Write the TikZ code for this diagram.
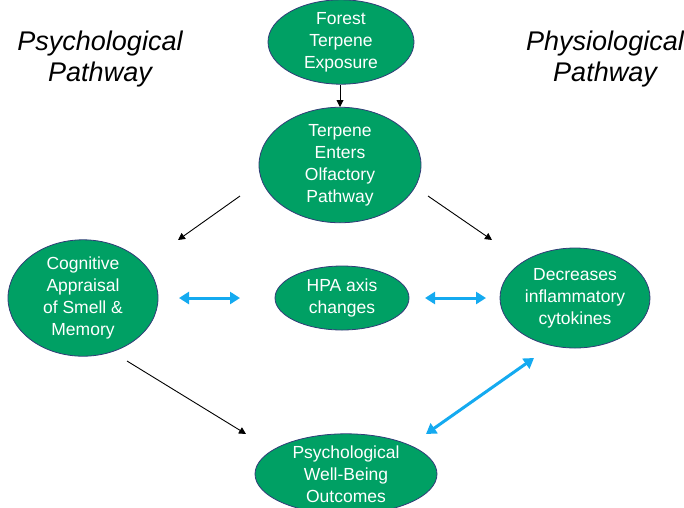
\documentclass[tikz,border=0pt]{standalone}
\usepackage{fontspec}
\setmainfont{Liberation Sans}
\usetikzlibrary{shapes.geometric,arrows.meta}
\definecolor{nodegreen}{RGB}{0,160,100}
\definecolor{nodeedge}{RGB}{50,60,120}
\definecolor{arrowblue}{RGB}{20,170,240}
\tikzset{
  oval/.style={ellipse, draw=nodeedge, line width=0.8pt, fill=nodegreen, text=white,
    inner sep=0pt, align=center, font=\fontsize{17.5}{22}\selectfont},
  blackarrow/.style={draw=black, line width=0.9pt, -{Triangle[length=7pt,width=7pt]}},
  bluearrow/.style={draw=arrowblue, line width=3pt, {Triangle[length=10pt,width=12pt]}-{Triangle[length=10pt,width=12pt]}},
  sidelabel/.style={align=center, font=\fontsize{27}{31}\selectfont\itshape}
}
\begin{document}
\begin{tikzpicture}[x=1pt,y=-1pt]
\useasboundingbox (0,0) rectangle (684,507);
\node[oval, minimum width=146pt, minimum height=70pt] (forest) at (341,42) {Forest\\Terpene\\Exposure};
\node[oval, minimum width=162pt, minimum height=100pt] (enters) at (340,165) {Terpene\\Enters\\Olfactory\\Pathway};
\node[oval, minimum width=150pt, minimum height=90pt] (cog) at (83,298) {Cognitive\\Appraisal\\of Smell \&\\Memory};
\node[oval, minimum width=134pt, minimum height=64pt] (hpa) at (342,298) {HPA axis\\changes};
\node[oval, minimum width=150pt, minimum height=100pt] (dec) at (575,298) {Decreases\\inflammatory\\cytokines};
\node[oval, minimum width=182pt, minimum height=80pt] (well) at (346,474) {Psychological\\Well-Being\\Outcomes};
\node[sidelabel] (psych) at (100,59) {Psychological\\Pathway};
\node[sidelabel] (phys) at (605,59) {Physiological\\Pathway};
% black arrows
\coordinate (a1s) at (340,85); \coordinate (a1e) at (340,107);
\draw[blackarrow] (a1s) -- (a1e);
\coordinate (a2s) at (240,196); \coordinate (a2e) at (178,240);
\draw[blackarrow] (a2s) -- (a2e);
\coordinate (a3s) at (428,196); \coordinate (a3e) at (492,240);
\draw[blackarrow] (a3s) -- (a3e);
\coordinate (a4s) at (127,361); \coordinate (a4e) at (246,434);
\draw[blackarrow] (a4s) -- (a4e);
% blue arrows
\coordinate (b1s) at (179,298); \coordinate (b1e) at (240,298);
\draw[bluearrow] (b1s) -- (b1e);
\coordinate (b2s) at (425,298); \coordinate (b2e) at (486,298);
\draw[bluearrow] (b2s) -- (b2e);
\coordinate (b3s) at (426,434); \coordinate (b3e) at (534,358);
\draw[bluearrow] (b3s) -- (b3e);
\end{tikzpicture}
\end{document}
